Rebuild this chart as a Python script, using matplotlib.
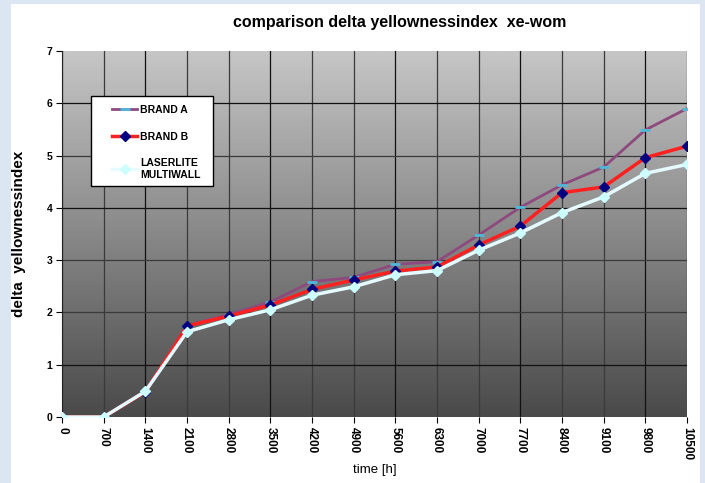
import numpy as np
import matplotlib
matplotlib.use("Agg")
import matplotlib.pyplot as plt

# dati
time_h = ["0", "700", "1400", "2100", "2800", "3500", "4200", "4900", "5600",
          "6300", "7000", "7700", "8400", "9100", "9800", "10500"]
brand_a = [0, 0, 0.49, 1.75, 1.96, 2.2, 2.59, 2.67, 2.92, 2.97, 3.48, 4.01, 4.44, 4.78, 5.49, 5.9]
brand_b = [0, 0, 0.48, 1.74, 1.93, 2.14, 2.44, 2.62, 2.79, 2.87, 3.29, 3.65, 4.29, 4.4, 4.96, 5.18]
laserlite = [0, 0, 0.49, 1.63, 1.86, 2.05, 2.33, 2.49, 2.72, 2.8, 3.19, 3.52, 3.91, 4.21, 4.66, 4.83]

FONT = ['Liberation Sans Narrow', 'Liberation Sans', 'DejaVu Sans']
plt.rcParams['font.family'] = FONT

W, H = 705, 483
fig = plt.figure(figsize=(W / 100, H / 100), dpi=100)
fig.patch.set_facecolor('#dce6f2')
# riquadro bianco interno
fig.add_artist(plt.Rectangle((11 / W, 0), 689 / W, 479 / H,
                             transform=fig.transFigure, facecolor='white',
                             edgecolor='none', zorder=-1))

ax = fig.add_axes([62 / W, 1 - 417 / H, 625 / W, 366 / H])
x = np.arange(len(time_h))

# sfondo sfumato grigio
grad = np.linspace(0, 1, 256).reshape(-1, 1)
ax.imshow(grad, extent=[0, len(time_h) - 1, 0, 7], aspect='auto',
          cmap=matplotlib.colors.LinearSegmentedColormap.from_list('g', ['#c6c6c6', '#4a4a4a']),
          origin='upper', zorder=0)

# griglia
for i in x:
    col = '#111111' if i % 3 == 2 else '#3a3a3a'
    ax.axvline(i, color=col, lw=0.9, zorder=1)
for v in range(1, 7):
    col = '#111111' if v in (1, 4, 6) else '#3a3a3a'
    ax.axhline(v, color=col, lw=0.9, zorder=1)

ax.plot(x, brand_a, color='#8e4a7e', lw=2, marker='_', ms=7, mew=2,
        mec='#4fb8d8', label='BRAND A', zorder=3)
ax.plot(x, brand_b, color='#ff2020', lw=2.5, marker='D', ms=5,
        mfc='#000080', mec='#000080', label='BRAND B', zorder=4)
ax.plot(x, laserlite, color='#e6fbff', lw=2.5, marker='D', ms=5,
        mfc='#ccffff', mec='#ccffff', label='LASERLITE\nMULTIWALL', zorder=5)

ax.set_xlim(0, len(time_h) - 1)
ax.set_ylim(0, 7)
ax.set_xticks(x)
ax.set_xticklabels(time_h, rotation=270, fontsize=8.5, fontweight='bold')
ax.set_yticks(range(0, 8))
ax.set_yticklabels([str(v) for v in range(0, 8)], fontsize=7.5, fontweight='bold')
ax.tick_params(length=4, width=0.8, pad=3)
for s in ['top', 'right', 'bottom']:
    ax.spines[s].set_visible(False)
ax.spines['left'].set_color('#222222')

fig.text(400 / W, 1 - 22 / H, 'comparison delta yellownessindex  xe-wom',
         ha='center', va='center', fontsize=11.5, fontweight='bold')
fig.text(19 / W, 1 - 234 / H, 'delta  yellownessindex', rotation=90,
         ha='center', va='center', fontsize=11, fontweight='bold')
fig.text(375 / W, 1 - 470 / H, 'time [h]', ha='center', va='center', fontsize=9.5)

# cornice della legenda
fig.add_artist(plt.Rectangle((91 / W, 1 - 186 / H), 122 / W, 90 / H,
                             transform=fig.transFigure, facecolor='white',
                             edgecolor='black', lw=1, zorder=9))
leg = fig.legend(loc='upper left', bbox_to_anchor=(112 / W, 1 - 105 / H),
                 frameon=False, prop={'size': 7.5, 'weight': 'bold', 'family': FONT},
                 handlelength=2.4, labelspacing=1.6, borderpad=0, handletextpad=0.3,
                 borderaxespad=0)
leg.set_zorder(10)

fig.savefig('out.png', dpi=100, facecolor=fig.get_facecolor())
